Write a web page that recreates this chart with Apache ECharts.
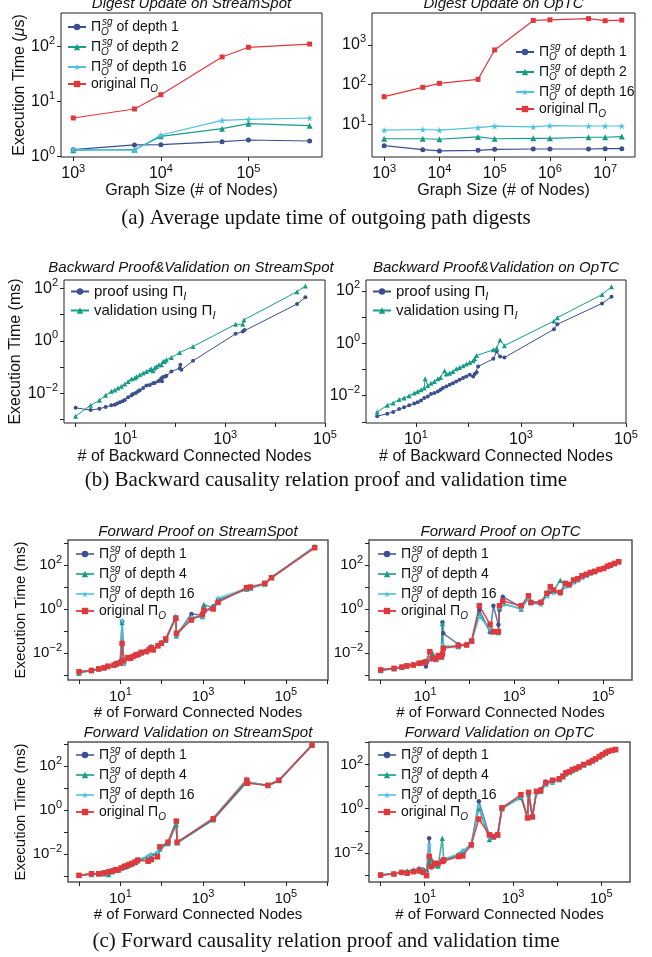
<!DOCTYPE html>
<html>
<head>
<meta charset="utf-8">
<script src="https://cdn.jsdelivr.net/npm/echarts@6/dist/echarts.min.js"></script>
<style>
  html, body { margin: 0; padding: 0; background: #fff; }
  #chart { width: 652px; height: 957px; }
</style>
</head>
<body>
<div id="chart"></div>
<script>
// ---- (a) digest update ----
var aSizesSS = [1e3, 5e3, 1e4, 5e4, 1e5, 5e5];
var aSS_d1 = [1.32, 1.61, 1.63, 1.85, 1.98, 1.90];
var aSS_d2 = [1.29, 1.32, 2.31, 3.18, 3.93, 3.61];
var aSS_d16 = [1.34, 1.29, 2.44, 4.51, 4.71, 4.98];
var aSS_orig = [4.98, 7.26, 13.2, 64, 96, 110];

var aSizesOp = [1e3, 5e3, 1e4, 5e4, 1e5, 5e5, 1e6, 5e6, 1e7, 2e7];
var aOp_d1 = [2.95, 2.34, 2.17, 2.25, 2.39, 2.43, 2.43, 2.43, 2.48, 2.48];
var aOp_d2 = [4.4, 4.4, 4.27, 4.9, 4.4, 4.5, 4.5, 4.8, 4.8, 5.0];
var aOp_d16 = [7.2, 7.5, 7.2, 8.4, 9.1, 8.7, 9.4, 9.2, 9.2, 9.2];
var aOp_orig = [50, 86, 108, 136, 745, 4100, 4250, 4550, 4040, 4180];

// ---- (b) backward proof & validation ----
var bSS_proofX = [1, 2, 3, 4, 5.2, 6.1, 6.8, 7.7, 8.7, 9.7, 11.3, 13.2, 14.2, 16.1, 17.9, 19.3, 22.6, 26.3, 30.7, 35.7, 38.6, 45, 48.6, 52.5, 54, 56.7, 63, 66, 83, 122, 126, 132, 226, 1610, 2250, 2440, 27500, 40400];
var bSS_proofY = [0.0028, 0.0023, 0.0026, 0.0030, 0.0035, 0.0037, 0.0041, 0.0046, 0.0050, 0.0056, 0.0071, 0.0084, 0.0094, 0.0103, 0.012, 0.013, 0.016, 0.020, 0.021, 0.024, 0.0246, 0.0287, 0.031, 0.038, 0.0287, 0.042, 0.044, 0.047, 0.068, 0.091, 0.123, 0.079, 0.174, 1.85, 2.26, 2.6, 25.4, 45.5];
var bSS_valX = [1, 2, 3, 4, 5.2, 6.1, 7.1, 8.3, 9.7, 11.3, 13.2, 15.4, 16.6, 19.3, 22.6, 26.3, 30.7, 33.1, 35.7, 38.6, 41.7, 47, 52.5, 56.7, 61, 66, 83, 122, 226, 1610, 2250, 2370, 27500, 40400];
var bSS_valY = [0.00134, 0.0035, 0.0054, 0.0084, 0.0119, 0.0134, 0.0159, 0.0185, 0.0226, 0.0286, 0.035, 0.0382, 0.044, 0.051, 0.059, 0.068, 0.079, 0.086, 0.073, 0.092, 0.106, 0.123, 0.123, 0.164, 0.164, 0.19, 0.233, 0.36, 0.61, 4.3, 4.3, 6.3, 75, 123];

var bOp_proofX = [1.83, 2.85, 3.7, 4.8, 5.97, 7.45, 9.3, 10.8, 12.5, 14.4, 16.8, 19.4, 22.5, 26.1, 29.4, 32.6, 37.8, 43.7, 50.7, 58.7, 68, 79, 91, 106, 123, 132, 143, 153, 298, 345, 400, 485, 4250, 4920, 35000, 53000];
var bOp_proofY = [0.00164, 0.00207, 0.0024, 0.0031, 0.0036, 0.0043, 0.005, 0.0056, 0.0065, 0.0081, 0.0094, 0.0116, 0.0126, 0.0146, 0.0169, 0.0195, 0.0226, 0.026, 0.030, 0.035, 0.0405, 0.047, 0.054, 0.063, 0.054, 0.0665, 0.079, 0.13, 0.254, 0.48, 0.31, 0.286, 3.4, 5.25, 33, 59];
var bOp_valX = [1.83, 2.85, 3.7, 4.8, 5.97, 7.45, 9.3, 10.8, 12.5, 14.4, 15.0, 16.8, 19.4, 22.5, 26.1, 29.4, 35.1, 37.8, 43.7, 50.7, 58.7, 68, 79, 91, 106, 123, 132, 143, 298, 345, 400, 485, 4250, 4920, 35000, 53000];
var bOp_valY = [0.0024, 0.0043, 0.0053, 0.0071, 0.0082, 0.010, 0.0126, 0.0146, 0.0169, 0.0195, 0.044, 0.0247, 0.030, 0.035, 0.044, 0.0497, 0.089, 0.0665, 0.0725, 0.084, 0.106, 0.119, 0.138, 0.16, 0.184, 0.214, 0.254, 0.34, 0.56, 0.65, 1.34, 0.81, 7.05, 9.4, 72, 142];

// ---- (c) forward proof ----
var cSS_pX = [1, 2, 3, 4, 5, 7, 8, 10, 11, 12, 15, 17.5, 20, 23.5, 27, 32, 43, 51, 56, 62, 81, 98, 125, 219, 226, 522, 964, 1040, 1750, 2300, 11200, 14000, 31000, 45000, 500000];
var cSS_pD1 = [0.0014, 0.0016, 0.0018, 0.0021, 0.0025, 0.0029, 0.0036, 0.0042, 0.27, 0.0034, 0.0058, 0.0055, 0.0066, 0.0083, 0.0090, 0.0102, 0.0118, 0.0150, 0.0190, 0.0140, 0.0220, 0.0290, 0.0420, 0.42, 0.065, 0.60, 0.52, 0.75, 1.3, 2.6, 8.0, 9.5, 13.5, 27, 680];
var cSS_pD4 = [0.0012, 0.0016, 0.0019, 0.0021, 0.0024, 0.0028, 0.0031, 0.0035, 0.24, 0.0036, 0.0060, 0.0058, 0.0070, 0.0080, 0.0085, 0.0100, 0.0140, 0.0160, 0.0185, 0.0145, 0.0230, 0.0310, 0.0380, 0.45, 0.060, 0.40, 0.45, 1.6, 1.1, 2.4, 8.2, 9.0, 14, 28, 650];
var cSS_pD16 = [0.0013, 0.0016, 0.0019, 0.0022, 0.0025, 0.0029, 0.0033, 0.0038, 0.30, 0.0032, 0.0055, 0.0060, 0.0072, 0.0078, 0.0092, 0.0110, 0.0125, 0.0155, 0.0200, 0.0150, 0.0240, 0.0300, 0.0460, 0.50, 0.070, 0.42, 0.48, 0.62, 1.2, 3.2, 8.5, 9.6, 12.5, 26, 700];
var cSS_pOrig = [0.0014, 0.0016, 0.0019, 0.0021, 0.0025, 0.0028, 0.0032, 0.0036, 0.027, 0.0044, 0.0062, 0.0057, 0.0068, 0.0081, 0.0087, 0.0107, 0.0115, 0.0147, 0.0175, 0.0137, 0.021, 0.0275, 0.0434, 0.38, 0.078, 0.316, 0.57, 0.9, 1.0, 2.0, 9.3, 10, 14.7, 26.5, 614];

var cOp_pX = [1, 2, 3, 3.9, 5.4, 7.3, 9, 10.4, 12.7, 14.6, 17.4, 19.6, 23.3, 24.5, 25.5, 55.5, 85.5, 111, 165, 288, 342, 443, 468, 555, 1440, 2100, 2380, 4000, 5450, 6500, 7700, 10900, 14100, 17500, 21800, 27000, 33600, 42000, 51800, 65000, 82000, 103000, 125000, 146000, 180000, 225000];
var cOp_pD1 = [0.0017, 0.0020, 0.0022, 0.0025, 0.0030, 0.0033, 0.0038, 0.0024, 0.0052, 0.0062, 0.0058, 0.0075, 0.0070, 0.25, 0.078, 0.025, 0.024, 0.034, 0.90, 0.087, 1.41, 0.19, 0.9, 3.6, 1.2, 3.0, 1.9, 1.8, 4.4, 6.1, 6.0, 5.2, 11, 12.5, 17, 21, 28, 35, 43, 50, 62, 74, 86, 98, 117, 145];
var cOp_pD4 = [0.0016, 0.0019, 0.0023, 0.0026, 0.0031, 0.0036, 0.0037, 0.0042, 0.0060, 0.0096, 0.0061, 0.0072, 0.0065, 0.22, 0.020, 0.020, 0.025, 0.036, 0.53, 0.11, 0.10, 0.085, 1.1, 1.8, 1.0, 3.2, 2.1, 2.2, 4.3, 7.5, 6.8, 20, 12, 13.5, 18, 22, 30, 36, 45, 51, 64, 72, 87, 99, 116, 140];
var cOp_pD16 = [0.0017, 0.0020, 0.0023, 0.0027, 0.0029, 0.0035, 0.0035, 0.0039, 0.0055, 0.0050, 0.0048, 0.0066, 0.0064, 0.025, 0.018, 0.018, 0.026, 0.038, 0.45, 0.13, 0.085, 0.09, 1.2, 1.6, 1.1, 2.9, 1.8, 1.6, 3.9, 8.0, 5.6, 5.0, 10.5, 11.5, 16, 20, 27, 33, 41, 48, 60, 70, 84, 96, 115, 138];
var cOp_pOrig = [0.0017, 0.0020, 0.0023, 0.0026, 0.0028, 0.0034, 0.0036, 0.0040, 0.0115, 0.0057, 0.0053, 0.0076, 0.0068, 0.0090, 0.0163, 0.0215, 0.023, 0.035, 1.41, 0.20, 0.093, 0.093, 1.41, 2.3, 1.41, 4.0, 2.0, 2.0, 5.2, 10.4, 7.3, 5.7, 14.7, 13, 20.9, 24, 32.7, 38, 46.4, 52, 63, 70, 88, 100, 118, 142];

// ---- (c) forward validation ----
var cSS_vX = [1, 2, 3, 4, 5.2, 6.3, 7.6, 8.8, 10.6, 12.6, 14.4, 16.3, 19, 22.8, 26.3, 47, 56, 79, 90, 142, 225, 235, 1760, 11400, 11800, 37000, 68000, 430000];
var cSS_vD1 = [0.0011, 0.0013, 0.0013, 0.0015, 0.0015, 0.0018, 0.0020, 0.0021, 0.0023, 0.0027, 0.0026, 0.0033, 0.0040, 0.0047, 0.0052, 0.0075, 0.0090, 0.0110, 0.0180, 0.033, 0.25, 0.032, 0.38, 19, 17, 12.5, 21, 850];
var cSS_vD4 = [0.0011, 0.0012, 0.0013, 0.0013, 0.0012, 0.0016, 0.0019, 0.0020, 0.0024, 0.0026, 0.0031, 0.0032, 0.0036, 0.0042, 0.0050, 0.0070, 0.0085, 0.0100, 0.0170, 0.030, 0.22, 0.033, 0.36, 18, 16, 12.8, 21.5, 860];
var cSS_vD16 = [0.0011, 0.0013, 0.0014, 0.0014, 0.0016, 0.0017, 0.0021, 0.0020, 0.0025, 0.0029, 0.0031, 0.0036, 0.0041, 0.0048, 0.0058, 0.0082, 0.0100, 0.0120, 0.0190, 0.034, 0.28, 0.034, 0.45, 26, 18, 13.5, 23, 880];
var cSS_vOrig = [0.0011, 0.0013, 0.0013, 0.0014, 0.0016, 0.0017, 0.0020, 0.0019, 0.0024, 0.0028, 0.0030, 0.0034, 0.0038, 0.0044, 0.0054, 0.0048, 0.0057, 0.0076, 0.0215, 0.035, 0.316, 0.035, 0.40, 22.4, 16.3, 13.2, 22.4, 870];

var cOp_vX = [1, 2, 3, 4, 5.6, 7.5, 9.2, 11, 12.6, 14.1, 16.8, 20, 25, 27, 59, 73, 113, 168, 292, 360, 450, 560, 1510, 2130, 2250, 2750, 3400, 4250, 5500, 7850, 11100, 13500, 15700, 19000, 22200, 26500, 31300, 40000, 52500, 63000, 74000, 90000, 105000, 125000, 144000, 175000, 211000];
var cOp_vD1 = [0.0010, 0.0011, 0.0013, 0.0014, 0.0016, 0.0019, 0.0017, 0.0014, 0.046, 0.0022, 0.0030, 0.0035, 0.0045, 0.0050, 0.0085, 0.011, 0.022, 2.15, 0.060, 0.058, 0.070, 1.15, 3.6, 0.40, 4.8, 0.45, 5.6, 7.5, 17, 18, 24, 28, 45, 46, 55, 70, 80, 96, 122, 145, 176, 225, 278, 335, 395, 445, 485];
var cOp_vD4 = [0.0010, 0.0012, 0.0013, 0.0015, 0.0017, 0.0015, 0.0018, 0.0013, 0.0035, 0.0055, 0.0028, 0.0025, 0.046, 0.0045, 0.0080, 0.012, 0.024, 1.07, 0.040, 0.052, 0.062, 1.0, 3.2, 0.42, 4.5, 0.48, 5.8, 6.2, 13, 16, 21, 27, 38, 44, 54, 64, 76, 95, 120, 146, 175, 222, 275, 330, 392, 438, 478];
var cOp_vD16 = [0.0010, 0.0011, 0.0014, 0.0013, 0.0015, 0.0017, 0.0016, 0.0012, 0.023, 0.0026, 0.0032, 0.0034, 0.0040, 0.0052, 0.0090, 0.013, 0.020, 1.27, 0.050, 0.054, 0.060, 0.95, 3.5, 0.45, 5.0, 0.44, 5.2, 6.5, 12, 17, 20, 26, 36, 42, 52, 62, 74, 92, 118, 140, 170, 218, 270, 325, 385, 430, 470];
var cOp_vOrig = [0.0010, 0.0011, 0.0013, 0.0012, 0.0014, 0.0016, 0.0013, 0.00093, 0.0068, 0.0024, 0.0034, 0.0032, 0.0041, 0.0048, 0.0068, 0.0073, 0.023, 0.34, 0.066, 0.055, 0.066, 1.07, 4.3, 0.38, 5.5, 0.42, 6.1, 6.8, 14.7, 19.5, 22.4, 30, 41.7, 48, 59, 66, 78, 100, 126, 150, 181, 230, 282, 340, 400, 440, 480];

var FONT = "'Liberation Sans', Arial, sans-serif";
var STAR = 'path://M50,0 L61,35 L98,35 L68,57 L79,91 L50,70 L21,91 L32,57 L2,35 L39,35 Z';
var BLUE = '#3C4F8E', GREEN = '#179C86', CYAN = '#4FC3DD', RED = '#E0383D';

var styles = {
  d1: { color: BLUE, symbol: 'circle', size: 5 },
  d2: { color: GREEN, symbol: 'triangle', size: 6 },
  d4: { color: GREEN, symbol: 'triangle', size: 6 },
  d16: { color: CYAN, symbol: STAR, size: 7 },
  orig: { color: RED, symbol: 'rect', size: 5 },
  proof: { color: BLUE, symbol: 'circle', size: 4 },
  valid: { color: GREEN, symbol: 'triangle', size: 5 }
};

var legendText = {
  d1: '{p|Π}{os|O}{s|sg}{t| of depth 1}',
  d2: '{p|Π}{os|O}{s|sg}{t| of depth 2}',
  d4: '{p|Π}{os|O}{s|sg}{t| of depth 4}',
  d16: '{p|Π}{os|O}{s|sg}{t| of depth 16}',
  orig: '{t|original Π}{o|O}',
  proof: '{t|proof using Π}{o|I}',
  valid: '{t|validation using Π}{o|I}'
};

function zip(xs, ys) {
  return xs.map(function (x, i) { return [x, ys[i]]; });
}

function makeSeries(panel, key, xs, ys, lw, op, scale) {
  var st = styles[key];
  return {
    name: panel + ' ' + key,
    type: 'line',
    xAxisIndex: panel, yAxisIndex: panel,
    data: zip(xs, ys),
    symbol: st.symbol,
    symbolSize: st.size * (scale || 1),
    lineStyle: { width: lw, color: st.color, opacity: op },
    itemStyle: { color: st.color },
    emphasis: { disabled: true },
    animation: false
  };
}

function powLabel(v) {
  var e = Math.round(Math.log10(v));
  return '{b|10}{e|' + (e < 0 ? '\u2212' + (-e) : e) + '}';
}

function richTick(fs) {
  return {
    b: { fontSize: fs, fontFamily: FONT, color: '#111', lineHeight: fs + 6 },
    e: { fontSize: Math.round(fs * 0.7), fontFamily: FONT, color: '#111', verticalAlign: 'top', lineHeight: Math.round(fs * 0.7) }
  };
}

function decades(lo, hi) {
  var out = [];
  for (var e = lo; e <= hi; e++) out.push(Math.pow(10, e));
  return out;
}

function logAxis(grid, lo, hi, ticks, labels, fs, name, nameGap, vertical) {
  var ax = {
    type: 'log', logBase: 10, gridIndex: grid,
    min: Math.pow(10, lo), max: Math.pow(10, hi),
    axisLine: { show: false },
    axisTick: { show: true, length: 4, lineStyle: { color: '#222' }, customValues: ticks },
    axisLabel: { customValues: labels, formatter: powLabel, margin: 6, rich: richTick(fs) },
    splitLine: { show: false },
    minorTick: { show: false }
  };
  if (name) {
    ax.name = name;
    ax.nameLocation = 'middle';
    ax.nameGap = nameGap;
    ax.nameTextStyle = { fontSize: fs, fontFamily: FONT, color: '#111' };
    if (vertical) ax.nameRotate = 90;
  }
  return ax;
}

function legendRich(fs) {
  var sub = Math.round(fs * 0.72);
  return {
    t: { fontSize: fs, fontFamily: FONT, color: '#111', lineHeight: fs + 6 },
    p: { fontSize: fs, fontFamily: FONT, color: '#111', lineHeight: fs + 6 },
    o: { fontSize: sub, fontFamily: FONT, fontStyle: 'italic', color: '#111', verticalAlign: 'bottom', lineHeight: sub + 1 },
    os: { fontSize: sub, fontFamily: FONT, fontStyle: 'italic', color: '#111', verticalAlign: 'bottom', lineHeight: sub + 1, width: 1 },
    s: { fontSize: sub, fontFamily: FONT, fontStyle: 'italic', color: '#111', verticalAlign: 'top', lineHeight: sub + 1 }
  };
}

function makeLegend(panel, keys, left, top, fs, gap) {
  return {
    show: true, selectedMode: false, orient: 'vertical',
    left: left, top: top, padding: 0, itemGap: gap,
    itemWidth: 18, itemHeight: 8,
    data: keys.map(function (k) { return panel + ' ' + k; }),
    formatter: function (name) { return legendText[name.split(' ')[1]]; },
    textStyle: { rich: legendRich(fs) }
  };
}

// grid boxes
var boxes = [
  [61, 13, 261, 144], [372, 13, 263, 144],
  [64, 280, 261, 143], [366, 280, 260, 143],
  [68, 540, 260, 140], [369, 540, 263, 140],
  [68, 742, 260, 140], [369, 742, 261, 140]
];
var grids = boxes.map(function (b, i) {
  return {
    left: b[0], top: b[1], width: b[2], height: b[3], show: true,
    borderColor: i >= 4 ? '#555' : '#222', borderWidth: i >= 4 ? 1.5 : 1,
    backgroundColor: 'transparent'
  };
});

var xAxes = [
  logAxis(0, 2.86, 5.84, decades(3, 5), decades(3, 5), 16, 'Graph Size (# of Nodes)', 23),
  logAxis(1, 2.78, 7.54, decades(3, 7), decades(3, 7), 16, 'Graph Size (# of Nodes)', 23),
  logAxis(2, -0.233, 5, decades(0, 5), [10, 1000, 100000], 16, '# of Backward Connected Nodes', 22),
  logAxis(3, 0.05, 5, decades(1, 5), [10, 1000, 100000], 16, '# of Backward Connected Nodes', 22),
  logAxis(4, -0.266, 6.02, decades(0, 6), [10, 1000, 100000], 15, '# of Forward Connected Nodes', 21),
  logAxis(5, -0.263, 5.65, decades(0, 5), [10, 1000, 100000], 15, '# of Forward Connected Nodes', 21),
  logAxis(6, -0.266, 6.02, decades(0, 6), [10, 1000, 100000], 15, '# of Forward Connected Nodes', 21),
  logAxis(7, -0.263, 5.65, decades(0, 5), [10, 1000, 100000], 15, '# of Forward Connected Nodes', 21)
];
var yTicksC = decades(-3, 3);
var yLabC = [0.01, 1, 100];
var yAxes = [
  logAxis(0, -0.012, 2.606, decades(0, 2), decades(0, 2), 16, '{n|Execution Time (}{m|μ}{n|s)}', 33, true),
  logAxis(1, 0.185, 3.80, decades(1, 3), decades(1, 3), 16),
  logAxis(2, -3.13, 2.32, decades(-3, 2), yLabC, 16, 'Execution Time (ms)', 36, true),
  logAxis(3, -3.04, 2.41, decades(-3, 2), yLabC, 16),
  logAxis(4, -3.23, 3.14, yTicksC, yLabC, 15, 'Execution Time (ms)', 40, true),
  logAxis(5, -3.23, 3.14, yTicksC, yLabC, 15),
  logAxis(6, -3.26, 3.08, yTicksC, yLabC, 15, 'Execution Time (ms)', 40, true),
  logAxis(7, -3.32, 3.02, yTicksC, yLabC, 15)
];
yAxes[0].nameTextStyle.rich = {
  n: { fontSize: 16, fontFamily: FONT, color: '#111' },
  m: { fontSize: 16, fontFamily: FONT, fontStyle: 'italic', color: '#111' }
};

var series = [
  makeSeries(0, 'd1', aSizesSS, aSS_d1, 1.2, 1),
  makeSeries(0, 'd2', aSizesSS, aSS_d2, 1.2, 1),
  makeSeries(0, 'd16', aSizesSS, aSS_d16, 1.2, 1),
  makeSeries(0, 'orig', aSizesSS, aSS_orig, 1.2, 1),
  makeSeries(1, 'd1', aSizesOp, aOp_d1, 1.2, 1),
  makeSeries(1, 'd2', aSizesOp, aOp_d2, 1.2, 1),
  makeSeries(1, 'd16', aSizesOp, aOp_d16, 1.2, 1),
  makeSeries(1, 'orig', aSizesOp, aOp_orig, 1.2, 1),
  makeSeries(2, 'proof', bSS_proofX, bSS_proofY, 1, 1),
  makeSeries(2, 'valid', bSS_valX, bSS_valY, 1, 1),
  makeSeries(3, 'proof', bOp_proofX, bOp_proofY, 1, 1),
  makeSeries(3, 'valid', bOp_valX, bOp_valY, 1, 1),
  makeSeries(4, 'd1', cSS_pX, cSS_pD1, 1.6, 0.75, 0.9),
  makeSeries(4, 'd4', cSS_pX, cSS_pD4, 1.6, 0.8, 0.9),
  makeSeries(4, 'd16', cSS_pX, cSS_pD16, 1.6, 0.8, 0.9),
  makeSeries(4, 'orig', cSS_pX, cSS_pOrig, 1.6, 0.9, 1.1),
  makeSeries(5, 'd1', cOp_pX, cOp_pD1, 1.6, 0.75, 0.9),
  makeSeries(5, 'd4', cOp_pX, cOp_pD4, 1.6, 0.8, 0.9),
  makeSeries(5, 'd16', cOp_pX, cOp_pD16, 1.6, 0.8, 0.9),
  makeSeries(5, 'orig', cOp_pX, cOp_pOrig, 1.6, 0.9, 1.1),
  makeSeries(6, 'd1', cSS_vX, cSS_vD1, 1.6, 0.75, 0.9),
  makeSeries(6, 'd4', cSS_vX, cSS_vD4, 1.6, 0.8, 0.9),
  makeSeries(6, 'd16', cSS_vX, cSS_vD16, 1.6, 0.8, 0.9),
  makeSeries(6, 'orig', cSS_vX, cSS_vOrig, 1.6, 0.9, 1.1),
  makeSeries(7, 'd1', cOp_vX, cOp_vD1, 1.6, 0.75, 0.9),
  makeSeries(7, 'd4', cOp_vX, cOp_vD4, 1.6, 0.8, 0.9),
  makeSeries(7, 'd16', cOp_vX, cOp_vD16, 1.6, 0.8, 0.9),
  makeSeries(7, 'orig', cOp_vX, cOp_vOrig, 1.6, 0.9, 1.1)
];

var four = ['d1', 'd4', 'd16', 'orig'];
var legends = [
  makeLegend(0, ['d1', 'd2', 'd16', 'orig'], 67, 17, 14, 0),
  makeLegend(1, ['d1', 'd2', 'd16', 'orig'], 515, 42, 14, 0),
  makeLegend(2, ['proof', 'valid'], 70, 284, 15, 1),
  makeLegend(3, ['proof', 'valid'], 372, 284, 15, 1),
  makeLegend(4, four, 75, 544, 14, 0),
  makeLegend(5, four, 377, 544, 14, 0),
  makeLegend(6, four, 75, 745, 14, 0),
  makeLegend(7, four, 377, 745, 14, 0)
];

function titleText(x, y, text) {
  return { type: 'text', x: x, y: y, silent: true,
    style: { text: text, font: 'italic 15px ' + FONT, fill: '#111', align: 'center', verticalAlign: 'middle' } };
}
function caption(y, text) {
  return { type: 'text', x: 326, y: y, silent: true,
    style: { text: text, font: "21px 'Liberation Serif', 'Times New Roman', serif", fill: '#111', align: 'center', verticalAlign: 'middle' } };
}

var graphics = [
  titleText(191.5, 4, 'Digest Update on StreamSpot'),
  titleText(503.5, 4, 'Digest Update on OpTC'),
  titleText(191, 268, 'Backward Proof&Validation on StreamSpot'),
  titleText(496, 268, 'Backward Proof&Validation on OpTC'),
  titleText(198, 532, 'Forward Proof on StreamSpot'),
  titleText(500.5, 532, 'Forward Proof on OpTC'),
  titleText(198, 733, 'Forward Validation on StreamSpot'),
  titleText(499.5, 733, 'Forward Validation on OpTC'),
  caption(218, '(a) Average update time of outgoing path digests'),
  caption(480, '(b) Backward causality relation proof and validation time'),
  caption(941, '(c) Forward causality relation proof and validation time')
];

var chart = echarts.init(document.getElementById('chart'), null, { renderer: 'canvas' });
chart.setOption({
  backgroundColor: '#fff',
  animation: false,
  grid: grids,
  xAxis: xAxes,
  yAxis: yAxes,
  legend: legends,
  series: series,
  graphic: graphics
});
window.addEventListener('resize', function () { chart.resize(); });
</script>
</body>
</html>
